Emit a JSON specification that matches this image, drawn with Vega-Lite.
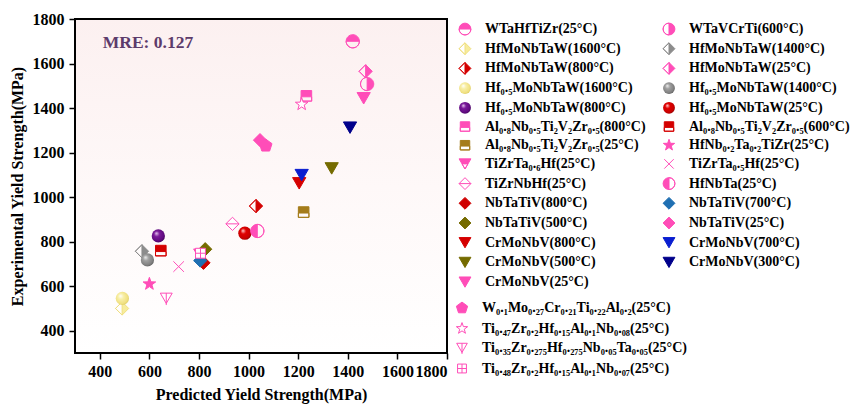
{
  "$schema": "https://vega.github.io/schema/vega-lite/v6.json",
  "autosize": "none",
  "width": 372,
  "height": 334,
  "padding": {"left": 75, "top": 19, "right": 406, "bottom": 51},
  "background": "white",
  "view": {
    "stroke": "black",
    "strokeWidth": 2,
    "fill": {"gradient": "linear", "x1": 0, "y1": 0, "x2": 0, "y2": 1, "stops": [{"offset": 0, "color": "#fcf0f0"}, {"offset": 0.5, "color": "#fef8f8"}, {"offset": 1, "color": "#ffffff"}]}
  },
  "config": {
    "axis": {
      "labelFont": "Liberation Serif", "labelFontWeight": "bold", "labelFontSize": 16, "labelColor": "black",
      "titleFont": "Liberation Serif", "titleFontWeight": "bold", "titleFontSize": 16, "titleColor": "black",
      "grid": false, "domain": false, "tickColor": "black", "tickWidth": 1.5
    },
    "legend": {
      "labelFont": "Liberation Serif", "labelFontWeight": "bold", "labelFontSize": 14, "labelColor": "black", "labelLimit": 500
    }
  },
  "datasets": {
    "main": [
      {"s": "WTaHfTiZr(25°C)", "x": 1420, "y": 1700},
      {"s": "WTaVCrTi(600°C)", "x": 1478, "y": 1508},
      {"s": "HfMoNbTaW(1600°C)", "x": 490, "y": 500},
      {"s": "HfMoNbTaW(1400°C)", "x": 570, "y": 757},
      {"s": "HfMoNbTaW(800°C)", "x": 1030, "y": 960},
      {"s": "HfMoNbTaW(25°C)", "x": 1472, "y": 1565},
      {"s": "Hf₀.₅MoNbTaW(1600°C)", "x": 491, "y": 545},
      {"s": "Hf₀.₅MoNbTaW(1400°C)", "x": 592, "y": 718},
      {"s": "Hf₀.₅MoNbTaW(800°C)", "x": 636, "y": 826},
      {"s": "Hf₀.₅MoNbTaW(25°C)", "x": 985, "y": 838},
      {"s": "Al₀.₈Nb₀.₅Ti₂V₂Zr₀.₅(800°C)", "x": 1233, "y": 1455},
      {"s": "Al₀.₈Nb₀.₅Ti₂V₂Zr₀.₅(600°C)", "x": 646, "y": 760},
      {"s": "Al₀.₈Nb₀.₅Ti₂V₂Zr₀.₅(25°C)", "x": 1222, "y": 933},
      {"s": "HfNb₀.₂Ta₀.₂TiZr(25°C)", "x": 600, "y": 610},
      {"s": "TiZrTa₀.₆Hf(25°C)", "x": 805, "y": 742},
      {"s": "TiZrTa₀.₅Hf(25°C)", "x": 718, "y": 688},
      {"s": "TiZrNbHf(25°C)", "x": 935, "y": 880},
      {"s": "HfNbTa(25°C)", "x": 1035, "y": 848},
      {"s": "NbTaTiV(25°C)", "x": 1046, "y": 1256},
      {"s": "NbTaTiV(500°C)", "x": 825, "y": 766},
      {"s": "NbTaTiV(800°C)", "x": 818, "y": 705},
      {"s": "NbTaTiV(700°C)", "x": 805, "y": 715},
      {"s": "CrMoNbV(800°C)", "x": 1204, "y": 1062},
      {"s": "CrMoNbV(700°C)", "x": 1214, "y": 1099},
      {"s": "CrMoNbV(500°C)", "x": 1335, "y": 1129},
      {"s": "CrMoNbV(300°C)", "x": 1409, "y": 1312},
      {"s": "CrMoNbV(25°C)", "x": 1464, "y": 1444}
    ],
    "extra": [
      {"s": "W₀.₁Mo₀.₂₇Cr₀.₂₁Ti₀.₂₂Al₀.₂(25°C)", "x": 1069, "y": 1231},
      {"s": "Ti₀.₄₇Zr₀.₂Hf₀.₁₅Al₀.₁Nb₀.₀₈(25°C)", "x": 1214, "y": 1417},
      {"s": "Ti₀.₃₅Zr₀.₂₇₅Hf₀.₂₇₅Nb₀.₀₅Ta₀.₀₅(25°C)", "x": 668, "y": 545},
      {"s": "Ti₀.₄₈Zr₀.₂Hf₀.₁₅Al₀.₁Nb₀.₀₇(25°C)", "x": 806, "y": 748}
    ],
    "note": [
      {"t": "MRE: 0.127", "x": 412, "y": 1690}
    ]
  },
  "layer": [
    {
      "mark": {"type": "rule", "color": "#808080", "strokeWidth": 3, "strokeDash": [12, 9]},
      "encoding": {
        "x": {"datum": 300, "type": "quantitative", "scale": {"domain": [300, 1800], "nice": false, "zero": false}},
        "y": {"datum": 300, "type": "quantitative", "scale": {"domain": [300, 1800], "nice": false, "zero": false}},
        "x2": {"datum": 1780},
        "y2": {"datum": 1780}
      }
    },
    {
      "data": {"name": "note"},
      "mark": {"type": "text", "align": "left", "baseline": "middle", "font": "Liberation Serif", "fontWeight": "bold", "fontSize": 17.5, "fill": "#5d3b6b"},
      "encoding": {
        "x": {"field": "x", "type": "quantitative", "scale": {"domain": [300, 1800], "nice": false, "zero": false}},
        "y": {"field": "y", "type": "quantitative", "scale": {"domain": [300, 1800], "nice": false, "zero": false}},
        "text": {"field": "t", "type": "nominal"}
      }
    },
    {
      "data": {"name": "main"},
      "mark": {"type": "point", "filled": true, "opacity": 1, "size": 175, "strokeWidth": 1},
      "encoding": {
        "x": {
          "field": "x", "type": "quantitative", "title": "Predicted Yield Strength(MPa)",
          "scale": {"domain": [300, 1800], "nice": false, "zero": false},
          "axis": {
            "values": [400, 500, 600, 700, 800, 900, 1000, 1100, 1200, 1300, 1400, 1500, 1600, 1700, 1800],
            "labelExpr": "datum.value % 200 == 0 ? datum.label : ''",
            "format": "d",
            "tickSize": {"condition": {"test": "datum.value % 200 == 0", "value": 6}, "value": 3},
            "labelPadding": 4, "titlePadding": 7
          }
        },
        "y": {
          "field": "y", "type": "quantitative", "title": "Experimental Yield Strength(MPa)",
          "scale": {"domain": [300, 1800], "nice": false, "zero": false},
          "axis": {
            "values": [400, 500, 600, 700, 800, 900, 1000, 1100, 1200, 1300, 1400, 1500, 1600, 1700, 1800],
            "labelExpr": "datum.value % 200 == 0 ? datum.label : ''",
            "format": "d",
            "tickSize": {"condition": {"test": "datum.value % 200 == 0", "value": 6}, "value": 3},
            "labelPadding": 5, "titlePadding": 7
          }
        },
        "fill": {
          "field": "s", "type": "nominal",
          "scale": {
            "domain": ["WTaHfTiZr(25°C)", "WTaVCrTi(600°C)", "HfMoNbTaW(1600°C)", "HfMoNbTaW(1400°C)", "HfMoNbTaW(800°C)", "HfMoNbTaW(25°C)", "Hf₀.₅MoNbTaW(1600°C)", "Hf₀.₅MoNbTaW(1400°C)", "Hf₀.₅MoNbTaW(800°C)", "Hf₀.₅MoNbTaW(25°C)", "Al₀.₈Nb₀.₅Ti₂V₂Zr₀.₅(800°C)", "Al₀.₈Nb₀.₅Ti₂V₂Zr₀.₅(600°C)", "Al₀.₈Nb₀.₅Ti₂V₂Zr₀.₅(25°C)", "HfNb₀.₂Ta₀.₂TiZr(25°C)", "TiZrTa₀.₆Hf(25°C)", "TiZrTa₀.₅Hf(25°C)", "TiZrNbHf(25°C)", "HfNbTa(25°C)", "NbTaTiV(800°C)", "NbTaTiV(700°C)", "NbTaTiV(500°C)", "NbTaTiV(25°C)", "CrMoNbV(800°C)", "CrMoNbV(700°C)", "CrMoNbV(500°C)", "CrMoNbV(300°C)", "CrMoNbV(25°C)"],
            "range": [
              "#ff4db8", "#ff4db8", "#f7ec9c", "#8c8c8c", "#d40000", "#ff4db8",
              {"expr": "{gradient:'radial',x1:0.35,y1:0.3,r1:0,x2:0.45,y2:0.45,r2:0.6,stops:[{offset:0,color:'#ffffff'},{offset:0.35,color:'#f8efa8'},{offset:0.8,color:'#f0e080'},{offset:1,color:'#d8c860'}]}"},
              {"expr": "{gradient:'radial',x1:0.35,y1:0.3,r1:0,x2:0.45,y2:0.45,r2:0.6,stops:[{offset:0,color:'#f0f0f0'},{offset:0.35,color:'#a0a0a0'},{offset:0.8,color:'#808080'},{offset:1,color:'#5a5a5a'}]}"},
              {"expr": "{gradient:'radial',x1:0.35,y1:0.3,r1:0,x2:0.45,y2:0.45,r2:0.6,stops:[{offset:0,color:'#e8c8f0'},{offset:0.35,color:'#7a1a9a'},{offset:0.8,color:'#600a80'},{offset:1,color:'#3a0050'}]}"},
              {"expr": "{gradient:'radial',x1:0.35,y1:0.3,r1:0,x2:0.45,y2:0.45,r2:0.6,stops:[{offset:0,color:'#ffd0d0'},{offset:0.35,color:'#e00000'},{offset:0.8,color:'#c80000'},{offset:1,color:'#800000'}]}"},
              "#ff4db8", "#d40000", "#a57c1b", "#ff4db8", "#ff4db8", "#ffffff", "#ffffff", "#ff4db8",
              "#d00000", "#1f6fb2", "#756b00", "#ff4db8",
              "#d50000", "#0a1ed0", "#756b00", "#00008b", "#ff4db8"
            ]
          },
          "legend": {"title": null, "columns": 2, "direction": "horizontal", "symbolSize": 140, "rowPadding": 3.7, "columnPadding": 15, "labelOffset": 13, "offset": 5, "padding": 3, "symbolStrokeWidth": 1}
        },
        "stroke": {
          "field": "s", "type": "nominal",
          "scale": {
            "domain": ["WTaHfTiZr(25°C)", "WTaVCrTi(600°C)", "HfMoNbTaW(1600°C)", "HfMoNbTaW(1400°C)", "HfMoNbTaW(800°C)", "HfMoNbTaW(25°C)", "Hf₀.₅MoNbTaW(1600°C)", "Hf₀.₅MoNbTaW(1400°C)", "Hf₀.₅MoNbTaW(800°C)", "Hf₀.₅MoNbTaW(25°C)", "Al₀.₈Nb₀.₅Ti₂V₂Zr₀.₅(800°C)", "Al₀.₈Nb₀.₅Ti₂V₂Zr₀.₅(600°C)", "Al₀.₈Nb₀.₅Ti₂V₂Zr₀.₅(25°C)", "HfNb₀.₂Ta₀.₂TiZr(25°C)", "TiZrTa₀.₆Hf(25°C)", "TiZrTa₀.₅Hf(25°C)", "TiZrNbHf(25°C)", "HfNbTa(25°C)", "NbTaTiV(800°C)", "NbTaTiV(700°C)", "NbTaTiV(500°C)", "NbTaTiV(25°C)", "CrMoNbV(800°C)", "CrMoNbV(700°C)", "CrMoNbV(500°C)", "CrMoNbV(300°C)", "CrMoNbV(25°C)"],
            "range": [
              "#ff4db8", "#ff4db8", "#f0e080", "#8c8c8c", "#d40000", "#ff4db8",
              "transparent", "transparent", "transparent", "transparent",
              "#ff4db8", "#d40000", "#a57c1b", "#ff4db8", "#ff4db8", "#ff4db8", "#ff4db8", "#ff4db8",
              "#d00000", "#1f6fb2", "#756b00", "#ff4db8",
              "#d50000", "#0a1ed0", "#756b00", "#00008b", "#ff4db8"
            ]
          },
          "legend": {"title": null, "columns": 2, "direction": "horizontal", "symbolSize": 140, "rowPadding": 3.7, "columnPadding": 15, "labelOffset": 13, "offset": 5, "padding": 3, "symbolStrokeWidth": 1}
        },
        "shape": {
          "field": "s", "type": "nominal",
          "scale": {
            "domain": ["WTaHfTiZr(25°C)", "WTaVCrTi(600°C)", "HfMoNbTaW(1600°C)", "HfMoNbTaW(1400°C)", "HfMoNbTaW(800°C)", "HfMoNbTaW(25°C)", "Hf₀.₅MoNbTaW(1600°C)", "Hf₀.₅MoNbTaW(1400°C)", "Hf₀.₅MoNbTaW(800°C)", "Hf₀.₅MoNbTaW(25°C)", "Al₀.₈Nb₀.₅Ti₂V₂Zr₀.₅(800°C)", "Al₀.₈Nb₀.₅Ti₂V₂Zr₀.₅(600°C)", "Al₀.₈Nb₀.₅Ti₂V₂Zr₀.₅(25°C)", "HfNb₀.₂Ta₀.₂TiZr(25°C)", "TiZrTa₀.₆Hf(25°C)", "TiZrTa₀.₅Hf(25°C)", "TiZrNbHf(25°C)", "HfNbTa(25°C)", "NbTaTiV(800°C)", "NbTaTiV(700°C)", "NbTaTiV(500°C)", "NbTaTiV(25°C)", "CrMoNbV(800°C)", "CrMoNbV(700°C)", "CrMoNbV(500°C)", "CrMoNbV(300°C)", "CrMoNbV(25°C)"],
            "range": [
              "M-1,0 A1,1 0 0,1 1,0 Z M-1,0 A1,1 0 0,0 1,0 A1,1 0 0,1 -1,0",
              "M0,-1 A1,1 0 0,1 0,1 Z M0,-1 A1,1 0 0,0 0,1 A1,1 0 0,1 0,-1",
              "M0,-1 L1,0 L0,1 Z M0,-1 L-1,0 L0,1 L-1,0 L0,-1",
              "M0,-1 L1,0 L0,1 Z M0,-1 L-1,0 L0,1 L-1,0 L0,-1",
              "M0,-1 L1,0 L0,1 Z M0,-1 L-1,0 L0,1 L-1,0 L0,-1",
              "M0,-1 L1,0 L0,1 Z M0,-1 L-1,0 L0,1 L-1,0 L0,-1",
              "circle", "circle", "circle", "circle",
              "M-0.8,-0.8 L0.8,-0.8 L0.8,0.15 L-0.8,0.15 Z M-0.8,0.15 L-0.8,0.8 L0.8,0.8 L0.8,0.15 L0.8,0.8 L-0.8,0.8 L-0.8,0.15",
              "M-0.8,-0.8 L0.8,-0.8 L0.8,0.15 L-0.8,0.15 Z M-0.8,0.15 L-0.8,0.8 L0.8,0.8 L0.8,0.15 L0.8,0.8 L-0.8,0.8 L-0.8,0.15",
              "M-0.8,-0.8 L0.8,-0.8 L0.8,0.15 L-0.8,0.15 Z M-0.8,0.15 L-0.8,0.8 L0.8,0.8 L0.8,0.15 L0.8,0.8 L-0.8,0.8 L-0.8,0.15",
              "M0,-1 L0.235,-0.324 L0.951,-0.309 L0.38,0.124 L0.588,0.809 L0,0.4 L-0.588,0.809 L-0.38,0.124 L-0.951,-0.309 L-0.235,-0.324 Z",
              "M-1,-0.85 L1,-0.85 L0.5,0 L-0.5,0 Z M-0.5,0 L0,0.85 L0.5,0 L0,0.85 L-0.5,0",
              "M-0.8,-0.8 L0.8,0.8 M-0.8,0.8 L0.8,-0.8",
              "M0,-1 L1,0 L0,1 L-1,0 Z M-1,0 L1,0",
              "M0,-1 A1,1 0 0,0 0,1 Z M0,-1 A1,1 0 0,1 0,1 A1,1 0 0,0 0,-1",
              "diamond", "diamond", "diamond", "diamond",
              "triangle-down", "triangle-down", "triangle-down", "triangle-down", "triangle-down"
            ]
          },
          "legend": {"title": null, "columns": 2, "direction": "horizontal", "symbolSize": 140, "rowPadding": 3.7, "columnPadding": 15, "labelOffset": 13, "offset": 5, "padding": 3, "symbolStrokeWidth": 1}
        }
      }
    },
    {
      "data": {"name": "extra"},
      "mark": {"type": "point", "filled": true, "opacity": 1, "size": 175, "strokeWidth": 1},
      "encoding": {
        "x": {"field": "x", "type": "quantitative", "scale": {"domain": [300, 1800], "nice": false, "zero": false}},
        "y": {"field": "y", "type": "quantitative", "scale": {"domain": [300, 1800], "nice": false, "zero": false}},
        "fill": {
          "field": "s", "type": "nominal",
          "scale": {
            "domain": ["W₀.₁Mo₀.₂₇Cr₀.₂₁Ti₀.₂₂Al₀.₂(25°C)", "Ti₀.₄₇Zr₀.₂Hf₀.₁₅Al₀.₁Nb₀.₀₈(25°C)", "Ti₀.₃₅Zr₀.₂₇₅Hf₀.₂₇₅Nb₀.₀₅Ta₀.₀₅(25°C)", "Ti₀.₄₈Zr₀.₂Hf₀.₁₅Al₀.₁Nb₀.₀₇(25°C)"],
            "range": ["#ff4db8", "#ffffff", "#ffffff", "#ffffff"]
          },
          "legend": {"title": null, "columns": 1, "symbolSize": 140, "rowPadding": 5.5, "labelOffset": 13, "offset": 8, "padding": 0, "symbolStrokeWidth": 1}
        },
        "stroke": {
          "field": "s", "type": "nominal",
          "scale": {
            "domain": ["W₀.₁Mo₀.₂₇Cr₀.₂₁Ti₀.₂₂Al₀.₂(25°C)", "Ti₀.₄₇Zr₀.₂Hf₀.₁₅Al₀.₁Nb₀.₀₈(25°C)", "Ti₀.₃₅Zr₀.₂₇₅Hf₀.₂₇₅Nb₀.₀₅Ta₀.₀₅(25°C)", "Ti₀.₄₈Zr₀.₂Hf₀.₁₅Al₀.₁Nb₀.₀₇(25°C)"],
            "range": ["#ff4db8", "#ff4db8", "#ff4db8", "#ff4db8"]
          },
          "legend": {"title": null, "columns": 1, "symbolSize": 140, "rowPadding": 5.5, "labelOffset": 13, "offset": 8, "padding": 0, "symbolStrokeWidth": 1}
        },
        "shape": {
          "field": "s", "type": "nominal",
          "scale": {
            "domain": ["W₀.₁Mo₀.₂₇Cr₀.₂₁Ti₀.₂₂Al₀.₂(25°C)", "Ti₀.₄₇Zr₀.₂Hf₀.₁₅Al₀.₁Nb₀.₀₈(25°C)", "Ti₀.₃₅Zr₀.₂₇₅Hf₀.₂₇₅Nb₀.₀₅Ta₀.₀₅(25°C)", "Ti₀.₄₈Zr₀.₂Hf₀.₁₅Al₀.₁Nb₀.₀₇(25°C)"],
            "range": [
              "M0,-1 L0.951,-0.309 L0.588,0.809 L-0.588,0.809 L-0.951,-0.309 Z",
              "M0,-1 L0.235,-0.324 L0.951,-0.309 L0.38,0.124 L0.588,0.809 L0,0.4 L-0.588,0.809 L-0.38,0.124 L-0.951,-0.309 L-0.235,-0.324 Z",
              "M-0.9,-0.8 L0.9,-0.8 L0,0.75 Z M0,-0.8 L0,1",
              "M-0.75,-0.75 L0.75,-0.75 L0.75,0.75 L-0.75,0.75 Z M0,-0.75 L0,0.75 M-0.75,0 L0.75,0"
            ]
          },
          "legend": {"title": null, "columns": 1, "symbolSize": 140, "rowPadding": 5.5, "labelOffset": 13, "offset": 8, "padding": 0, "symbolStrokeWidth": 1}
        }
      }
    }
  ],
  "resolve": {"scale": {"fill": "independent", "stroke": "independent", "shape": "independent"}}
}
